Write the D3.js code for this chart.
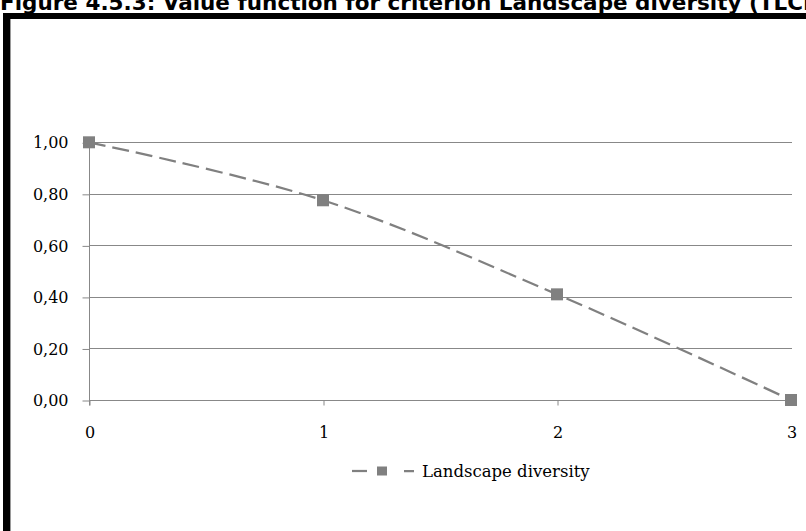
<!DOCTYPE html>
<html>
<head>
<meta charset="utf-8">
<script src="https://cdn.jsdelivr.net/npm/d3@7"></script>
<style>
  html, body { margin: 0; padding: 0; background: #fff; }
  svg { display: block; }
</style>
</head>
<body>
<svg id="chart" width="806" height="531"></svg>
<script>
const titleText = "Figure 4.5.3: Value function for criterion Landscape diversity (TLCI)";
const categories = [0, 1, 2, 3];
const seriesName = "Landscape diversity";
const seriesValues = [1.00, 0.775, 0.41, 0.00];
const yTicks = [0, 0.2, 0.4, 0.6, 0.8, 1.0];
const yTickLabels = ["0,00", "0,20", "0,40", "0,60", "0,80", "1,00"];
const xTickLabels = ["0", "1", "2", "3"];

const svg = d3.select("#chart");
const W = 806, H = 531;
const gray = "#808080";
const gridColor = "#888888";
const serif = "'DejaVu Serif', 'Liberation Serif', serif";

// Title (clipped at top and right as in reference)
svg.append("text")
  .attr("x", 0).attr("y", 10)
  .attr("font-family", "'DejaVu Sans', 'Liberation Sans', sans-serif")
  .attr("font-weight", "bold")
  .attr("font-size", 21.5)
  .attr("fill", "#000")
  .text(titleText);

// Frame
svg.append("rect").attr("x", 3).attr("y", 13).attr("width", W).attr("height", 6).attr("fill", "#000");
svg.append("rect").attr("x", 3).attr("y", 13).attr("width", 7).attr("height", H).attr("fill", "#000");
svg.append("rect").attr("x", 10).attr("y", 19).attr("width", 1).attr("height", H).attr("fill", "#9a9a9a");

const x = d3.scaleLinear().domain([0, 3]).range([89, 791]);
const y = d3.scaleLinear().domain([0, 1]).range([400, 142.3]);

// Gridlines
svg.append("g").selectAll("line").data(yTicks).join("line")
  .attr("x1", x(0)).attr("x2", x(3) + 1)
  .attr("y1", d => Math.round(y(d)) + 0.5).attr("y2", d => Math.round(y(d)) + 0.5)
  .attr("stroke", gridColor).attr("stroke-width", 1);

// Y axis
const yAxis = d3.axisLeft(y).tickValues(yTicks)
  .tickFormat((d, i) => yTickLabels[i]).tickSize(7).tickPadding(14);
const gy = svg.append("g").attr("transform", `translate(${Math.round(x(0)) + 0.5},0.5)`).call(yAxis);
gy.select(".domain").attr("stroke", gridColor).attr("d", `M0,${y(1)}V${y(0) + 5}`);
gy.selectAll(".tick line").attr("stroke", gridColor);
gy.selectAll(".tick text").attr("font-family", serif).attr("font-size", 16).attr("fill", "#000");

// X axis
const xAxis = d3.axisBottom(x).tickValues(categories)
  .tickFormat((d, i) => xTickLabels[i]).tickSize(5).tickPadding(21);
const gx = svg.append("g").attr("transform", `translate(0.5,${Math.round(y(0)) + 0.5})`).call(xAxis);
gx.select(".domain").remove();
gx.selectAll(".tick line").attr("stroke", gridColor);
gx.selectAll(".tick text").attr("font-family", serif).attr("font-size", 16).attr("fill", "#000");

// Series line
const line = d3.line().x((d, i) => x(categories[i])).y(d => y(d)).curve(d3.curveCardinal.tension(0));
svg.append("path").datum(seriesValues)
  .attr("d", line)
  .attr("fill", "none").attr("stroke", gray).attr("stroke-width", 2.25)
  .attr("stroke-dasharray", "17,7");

// Markers
const ms = 12;
svg.append("g").selectAll("rect").data(seriesValues).join("rect")
  .attr("x", (d, i) => x(categories[i]) - ms / 2)
  .attr("y", d => y(d) - ms / 2)
  .attr("width", ms).attr("height", ms)
  .attr("fill", gray);

// Legend
const lg = svg.append("g").attr("transform", "translate(352,471)");
lg.append("line").attr("x1", 0).attr("x2", 15).attr("y1", 0).attr("y2", 0)
  .attr("stroke", gray).attr("stroke-width", 2.25);
lg.append("line").attr("x1", 30).attr("x2", 62).attr("y1", 0).attr("y2", 0)
  .attr("stroke", gray).attr("stroke-width", 2.25).attr("stroke-dasharray", "0,22,10");
lg.append("rect").attr("x", 25).attr("y", -4.5).attr("width", 10).attr("height", 9).attr("fill", gray);
lg.append("text").attr("x", 70).attr("y", 0).attr("dy", "0.35em")
  .attr("font-family", serif).attr("font-size", 16.5).attr("fill", "#000")
  .text(seriesName);
</script>
</body>
</html>
